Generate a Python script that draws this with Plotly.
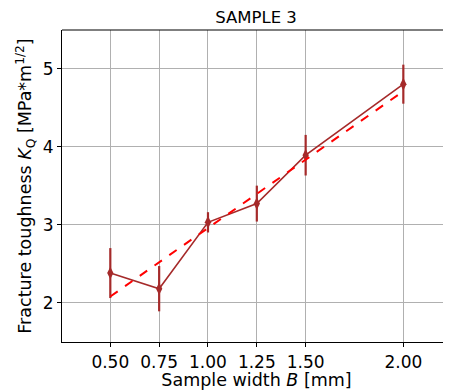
import plotly.graph_objects as go

widths = [0.50, 0.75, 1.00, 1.25, 1.50, 2.00]
kq = [2.38, 2.18, 3.03, 3.27, 3.89, 4.80]
kq_err = [0.32, 0.29, 0.13, 0.23, 0.26, 0.25]
fit_x = [0.50, 2.00]
fit_y = [2.08, 4.71]
xtick_vals = [0.50, 0.75, 1.00, 1.25, 1.50, 2.00]
xtick_text = ["0.50", "0.75", "1.00", "1.25", "1.50", "2.00"]
ytick_vals = [2, 3, 4, 5]

font = "DejaVu Sans, sans-serif"

# the page body has an 8px margin, so the figure is drawn 8px right/down
W, H = 443, 382

fig = go.Figure()
fig.add_trace(go.Scatter(
    x=widths, y=kq, mode="lines+markers",
    line=dict(color="#a52a2a", width=1.6),
    marker=dict(symbol="diamond-tall", size=9, color="#a52a2a"),
    error_y=dict(type="data", array=kq_err, visible=True, color="#a52a2a",
                 thickness=2.2, width=0),
    showlegend=False,
))
fig.add_trace(go.Scatter(
    x=fit_x, y=fit_y, mode="lines",
    line=dict(color="red", width=2, dash="dash"),
    showlegend=False,
))

fig.update_layout(
    width=W, height=H,
    margin=dict(l=54, r=0, t=22, b=48, autoexpand=False),
    plot_bgcolor="white", paper_bgcolor="white",
    font=dict(family=font, size=17, color="black"),
    title=dict(text="SAMPLE 3", x=248 / W, xanchor="center",
               y=1 - 9 / H, yref="container", yanchor="middle",
               font=dict(family=font, size=16.5, color="black"), automargin=False),
)
fig.update_xaxes(
    range=[0.2527, 2.244], automargin=False,
    tickvals=xtick_vals, ticktext=xtick_text,
    showgrid=True, gridcolor="#b0b0b0", gridwidth=1,
    showline=True, linecolor="black", linewidth=1.2, mirror=False,
    ticks="outside", ticklen=4, tickcolor="black",
    zeroline=False,
    title=dict(text="Sample width <i>B</i> [mm]", standoff=2,
               font=dict(family=font, size=17.5)),
    tickfont=dict(family=font, size=17),
)
fig.update_yaxes(
    range=[1.497, 5.494], automargin=False,
    tickvals=ytick_vals,
    showgrid=True, gridcolor="#b0b0b0", gridwidth=1,
    showline=True, linecolor="black", linewidth=1.2,
    ticks="outside", ticklen=4, tickcolor="black",
    zeroline=False,
    title=dict(text="Fracture toughness <i>K</i><sub>Q</sub> [MPa*m<sup>1/2</sup>]",
               standoff=6, font=dict(family=font, size=17.5)),
    tickfont=dict(family=font, size=17),
)
# top spine
fig.add_shape(type="line", xref="paper", yref="paper", x0=0, x1=1, y0=1, y1=1,
              line=dict(color="black", width=1.2))

fig.write_html("out.html")
